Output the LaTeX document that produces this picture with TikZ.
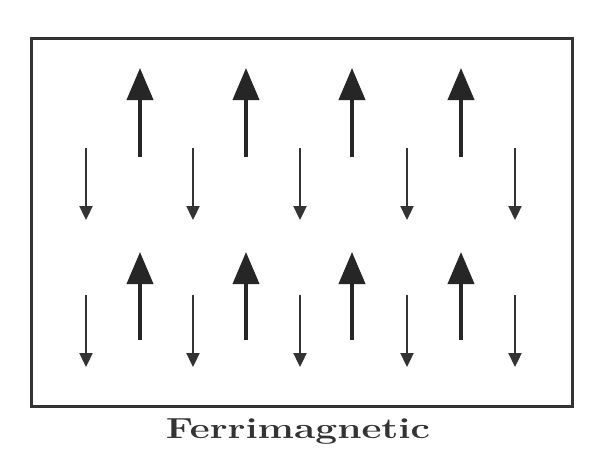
\documentclass[tikz,border=0pt]{standalone}
\usetikzlibrary{arrows.meta}
\begin{document}
\begin{tikzpicture}[x=1pt,y=-1pt,
  upspin/.style={line width=4pt,draw=black!85,-{Triangle[length=32pt,width=26pt]}},
  downspin/.style={line width=2.3pt,draw=black!80,-{Triangle[length=14pt,width=13pt]}},
  frame/.style={line width=2.5pt,draw=black!80}]
\useasboundingbox (0,0) rectangle (596,450);
\fill[white] (0,0) rectangle (596,450);
\node[frame,minimum width=541pt,minimum height=368pt,inner sep=0pt,anchor=north west] (box) at (30,37) {};
% up spins
\foreach \x [count=\i] in {140,246,352,461}{
  \coordinate (ua\i) at (\x,157);
  \coordinate (ub\i) at (\x,68);
  \draw[upspin] (ua\i) -- (ub\i);
  \coordinate (uc\i) at (\x,340);
  \coordinate (ud\i) at (\x,252);
  \draw[upspin] (uc\i) -- (ud\i);
}
% down spins
\foreach \x [count=\i] in {86,193,300,407,515}{
  \coordinate (da\i) at (\x,148);
  \coordinate (db\i) at (\x,220);
  \draw[downspin] (da\i) -- (db\i);
  \coordinate (dc\i) at (\x,295);
  \coordinate (dd\i) at (\x,367);
  \draw[downspin] (dc\i) -- (dd\i);
}
\node[anchor=base,inner sep=0pt,xscale=1.34,text=black!80] (label) at (298,438)
  {\fontsize{29}{30}\selectfont\bfseries Ferrimagnetic};
\end{tikzpicture}
\end{document}
